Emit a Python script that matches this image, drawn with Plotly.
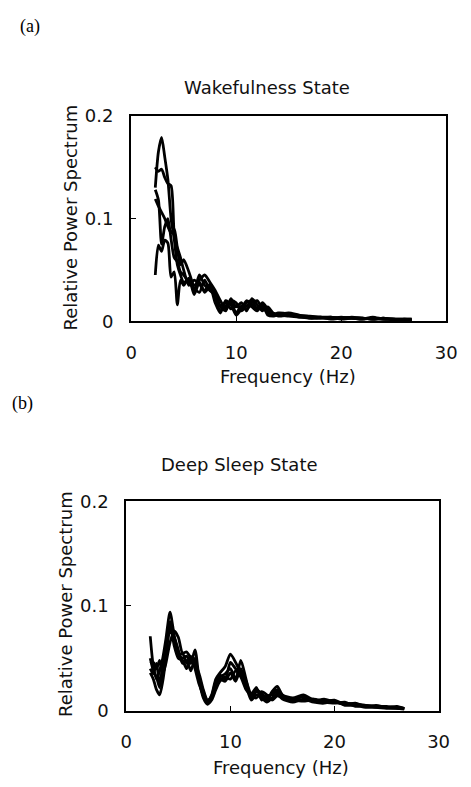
import plotly.graph_objects as go

W, H = 471, 787
OFF = 8  # page body margin

# ---------------- data ----------------
wake_freq = [2.3, 2.6, 2.9, 3.2, 3.5, 3.8, 4.1, 4.4, 4.7, 5.0, 5.5, 6.0, 6.5, 7.0, 7.5, 8.0,
             8.5, 9.0, 9.5, 10, 10.5, 11, 11.5, 12, 12.5, 13, 13.5, 14, 15, 16, 17, 18, 19,
             20, 21, 22, 23, 24, 25, 26, 26.7]
wake_s1 = [0.130, 0.165, 0.179, 0.160, 0.138, 0.100, 0.080, 0.055, 0.045, 0.038, 0.040, 0.030,
           0.045, 0.035, 0.030, 0.025, 0.015, 0.018, 0.012, 0.015, 0.012, 0.018, 0.020, 0.012,
           0.015, 0.008, 0.007, 0.006, 0.006, 0.005, 0.004, 0.004, 0.003, 0.003, 0.003, 0.002,
           0.003, 0.002, 0.002, 0.002, 0.002]
wake_s2 = [0.150, 0.146, 0.148, 0.140, 0.134, 0.132, 0.085, 0.070, 0.055, 0.060, 0.048, 0.035,
           0.040, 0.045, 0.038, 0.030, 0.020, 0.012, 0.020, 0.018, 0.010, 0.015, 0.018, 0.020,
           0.012, 0.010, 0.008, 0.007, 0.008, 0.006, 0.005, 0.004, 0.004, 0.003, 0.004, 0.003,
           0.002, 0.003, 0.002, 0.002, 0.002]
wake_s3 = [0.119, 0.112, 0.106, 0.100, 0.092, 0.086, 0.090, 0.072, 0.062, 0.050, 0.035, 0.040,
           0.036, 0.030, 0.036, 0.022, 0.010, 0.015, 0.018, 0.008, 0.015, 0.012, 0.016, 0.012,
           0.018, 0.012, 0.006, 0.008, 0.007, 0.004, 0.004, 0.003, 0.003, 0.004, 0.003, 0.003,
           0.002, 0.002, 0.002, 0.001, 0.001]
wake_s4 = [0.045, 0.074, 0.068, 0.079, 0.076, 0.043, 0.048, 0.016, 0.040, 0.035, 0.042, 0.026,
           0.038, 0.028, 0.034, 0.018, 0.008, 0.020, 0.016, 0.006, 0.012, 0.020, 0.014, 0.010,
           0.016, 0.006, 0.005, 0.006, 0.005, 0.004, 0.003, 0.004, 0.002, 0.003, 0.003, 0.002,
           0.004, 0.002, 0.002, 0.001, 0.001]
wake_s5 = [0.128, 0.118, 0.075, 0.092, 0.100, 0.080, 0.062, 0.058, 0.048, 0.045, 0.038, 0.032,
           0.028, 0.040, 0.030, 0.028, 0.014, 0.010, 0.022, 0.014, 0.018, 0.010, 0.022, 0.016,
           0.010, 0.014, 0.008, 0.005, 0.006, 0.005, 0.003, 0.003, 0.004, 0.002, 0.003, 0.003,
           0.002, 0.003, 0.001, 0.002, 0.001]

sleep_freq = [2.3, 2.6, 2.9, 3.2, 3.5, 3.8, 4.2, 4.6, 5.0, 5.4, 5.8, 6.2, 6.6, 7.0, 7.4, 7.8,
              8.2, 8.6, 9.0, 9.5, 10.0, 10.5, 11.0, 11.5, 12.0, 12.5, 13.0, 13.5, 14.0, 14.5,
              15.0, 16.0, 17.0, 18.0, 19.0, 20.0, 21.0, 22.0, 23.0, 24.0, 25.0, 26.0, 26.7]
sleep_s1 = [0.071, 0.042, 0.030, 0.038, 0.050, 0.068, 0.094, 0.072, 0.055, 0.050, 0.052, 0.045,
            0.058, 0.030, 0.014, 0.008, 0.015, 0.030, 0.036, 0.042, 0.054, 0.046, 0.035, 0.022,
            0.015, 0.020, 0.016, 0.012, 0.016, 0.020, 0.013, 0.010, 0.013, 0.009, 0.011, 0.008,
            0.007, 0.006, 0.004, 0.004, 0.004, 0.003, 0.002]
sleep_s2 = [0.045, 0.046, 0.040, 0.048, 0.035, 0.045, 0.065, 0.076, 0.070, 0.055, 0.056, 0.050,
            0.045, 0.035, 0.020, 0.010, 0.012, 0.025, 0.032, 0.035, 0.040, 0.030, 0.048, 0.030,
            0.012, 0.018, 0.014, 0.010, 0.018, 0.023, 0.015, 0.012, 0.015, 0.010, 0.009, 0.010,
            0.006, 0.007, 0.004, 0.005, 0.003, 0.004, 0.002]
sleep_s3 = [0.036, 0.030, 0.020, 0.015, 0.028, 0.050, 0.085, 0.062, 0.050, 0.048, 0.040, 0.052,
            0.040, 0.025, 0.015, 0.007, 0.012, 0.022, 0.030, 0.028, 0.036, 0.028, 0.040, 0.025,
            0.010, 0.015, 0.012, 0.008, 0.012, 0.016, 0.011, 0.008, 0.011, 0.008, 0.007, 0.009,
            0.005, 0.005, 0.003, 0.003, 0.002, 0.002, 0.001]
sleep_s4 = [0.040, 0.035, 0.045, 0.025, 0.040, 0.055, 0.075, 0.070, 0.058, 0.045, 0.048, 0.038,
            0.050, 0.028, 0.012, 0.006, 0.010, 0.020, 0.028, 0.032, 0.030, 0.038, 0.032, 0.020,
            0.014, 0.012, 0.018, 0.015, 0.010, 0.014, 0.012, 0.010, 0.009, 0.010, 0.008, 0.007,
            0.008, 0.004, 0.005, 0.003, 0.003, 0.002, 0.002]
sleep_s5 = [0.050, 0.038, 0.032, 0.022, 0.045, 0.062, 0.080, 0.066, 0.052, 0.055, 0.045, 0.048,
            0.044, 0.032, 0.018, 0.009, 0.014, 0.028, 0.034, 0.030, 0.046, 0.040, 0.036, 0.028,
            0.016, 0.022, 0.010, 0.014, 0.015, 0.018, 0.013, 0.011, 0.010, 0.011, 0.009, 0.008,
            0.006, 0.006, 0.005, 0.004, 0.003, 0.003, 0.002]

x_ticks = [0, 10, 20, 30]
x_tick_text = ["0", "10", "20", "30"]
y_ticks = [0, 0.1, 0.2]
y_tick_text = ["0", "0.1", "0.2"]

panel_titles = ["Wakefulness State", "Deep Sleep State"]
panel_tags = ["(a)", "(b)"]
x_title = "Frequency (Hz)"
y_title = "Relative Power Spectrum"

# ---------------- figure ----------------
FONT = "DejaVu Sans"
fig = go.Figure()

line = dict(color="black", width=2.8, shape="spline", smoothing=0.7)
for s in [wake_s1, wake_s2, wake_s3, wake_s4, wake_s5]:
    fig.add_trace(go.Scatter(x=wake_freq, y=s, mode="lines", line=line,
                             xaxis="x", yaxis="y", showlegend=False, hoverinfo="skip"))
for s in [sleep_s1, sleep_s2, sleep_s3, sleep_s4, sleep_s5]:
    fig.add_trace(go.Scatter(x=sleep_freq, y=s, mode="lines", line=line,
                             xaxis="x2", yaxis="y2", showlegend=False, hoverinfo="skip"))


def px_x(p):
    return (p - OFF) / W


def px_y(p):
    return 1 - (p - OFF) / H


axis_common = dict(showline=True, linecolor="black", linewidth=2, mirror=True,
                   showgrid=False, zeroline=False, ticks="inside", ticklen=5,
                   tickwidth=1, tickcolor="black",
                   tickfont=dict(family=FONT, size=18, color="#111"))

fig.update_layout(
    width=W, height=H,
    margin=dict(l=0, r=0, t=0, b=0),
    paper_bgcolor="white", plot_bgcolor="white",
    xaxis=dict(domain=[px_x(129.5), px_x(456.5)], range=[0, 30], anchor="y",
               tickvals=x_ticks, ticktext=x_tick_text, ticklabelstandoff=14, **axis_common),
    yaxis=dict(domain=[px_y(318.5), px_y(107.5)], range=[0, 0.2], anchor="x",
               tickvals=y_ticks, ticktext=y_tick_text, ticklabelstandoff=12, **axis_common),
    xaxis2=dict(domain=[px_x(124.5), px_x(448.5)], range=[0, 30], anchor="y2",
                tickvals=x_ticks, ticktext=x_tick_text, ticklabelstandoff=14, **axis_common),
    yaxis2=dict(domain=[px_y(718.5), px_y(503.5)], range=[0, 0.2], anchor="x2",
                tickvals=y_ticks, ticktext=y_tick_text, ticklabelstandoff=12, **axis_common),
)

txt = dict(family=FONT, size=18, color="#111")
ann = [
    dict(x=px_x(12), y=px_y(16), text=panel_tags[0], xanchor="left", yanchor="middle",
         font=dict(family="Liberation Serif", size=18, color="black")),
    dict(x=px_x(4), y=px_y(403), text=panel_tags[1], xanchor="left", yanchor="middle",
         font=dict(family="Liberation Serif", size=18, color="black")),
    dict(x=px_x(270), y=px_y(78), text=panel_titles[0], xanchor="center", yanchor="middle", font=txt),
    dict(x=px_x(242), y=px_y(466), text=panel_titles[1], xanchor="center", yanchor="middle", font=txt),
    dict(x=px_x(292), y=px_y(375), text=x_title, xanchor="center", yanchor="middle", font=txt),
    dict(x=px_x(285), y=px_y(777), text=x_title, xanchor="center", yanchor="middle", font=txt),
    dict(x=px_x(67), y=px_y(212), text=y_title, xanchor="center", yanchor="middle", font=txt,
         textangle=-90),
    dict(x=px_x(62), y=px_y(609), text=y_title, xanchor="center", yanchor="middle", font=txt,
         textangle=-90),
]
for a in ann:
    a.update(xref="paper", yref="paper", showarrow=False)
fig.update_layout(annotations=ann)

fig.write_html("out.html")
